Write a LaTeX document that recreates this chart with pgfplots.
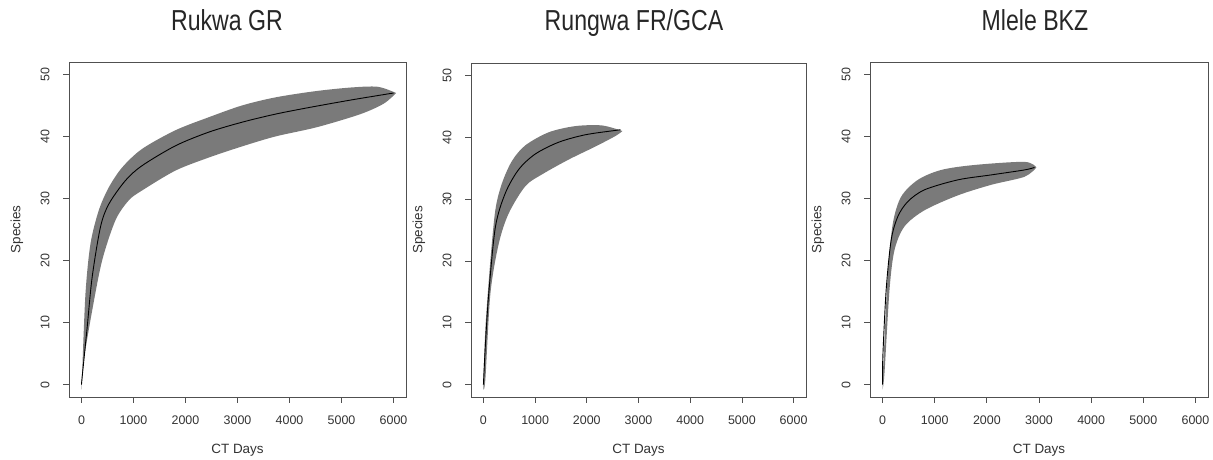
\documentclass[border=0pt]{standalone}
\usepackage{fontspec}
\setmainfont{Liberation Sans}
\usepackage{pgfplots}
\pgfplotsset{compat=1.18}
\usepgfplotslibrary{fillbetween}

\definecolor{bandgray}{RGB}{122,122,122}
\definecolor{axgray}{RGB}{80,80,80}

\pgfplotsset{
  rplot/.style={
    scale only axis,
    xmin=-240, xmax=6240,
    ymin=-2, ymax=52,
    xtick={0,1000,...,6000},
    ytick={0,10,...,50},
    scaled ticks=false,
    /pgf/number format/1000 sep={},
    /pgf/number format/assume math mode=true,
    tick align=outside,
    xtick pos=bottom, ytick pos=left,
    major tick length=6bp,
    axis line style={axgray, line width=0.8pt},
    tick style={axgray, line width=0.8pt},
    ticklabel style={font=\fontsize{12.5}{13}\selectfont, text=black!80},
    xticklabel style={anchor=north, yshift=-9bp},
    yticklabel style={rotate=90, anchor=south, yshift=10bp},
    xlabel={CT Days}, ylabel={Species},
    every axis x label/.style={at={(axis description cs:0.5,0)}, anchor=center,
      yshift=-53bp, font=\fontsize{13.5}{14}\selectfont, text=black!80},
    every axis y label/.style={at={(axis description cs:0,0.5)}, anchor=center,
      rotate=90, yshift=52bp, font=\fontsize{13.5}{14}\selectfont, text=black!80},
  },
  rband/.style={fill=bandgray, draw=none},
  rmean/.style={black, line width=0.9pt, smooth, no markers},
  redge/.style={draw=none, smooth, no markers},
}

\newcommand{\ttl}[1]{{\addfontfeature{FakeStretch=0.8}\fontsize{29}{30}\selectfont #1}}

\begin{document}
\begin{tikzpicture}

% Rukwa GR
\begin{axis}[rplot, at={(69bp,61bp)}, anchor=south west, width=337bp, height=335bp]
  \addplot[redge, name path=up1] coordinates {
    (0,0.5) (13,2) (77,14.7) (173,22.7) (333,28.1) (526,31.8) (782,35) (1167,38)
    (1808,41) (2449,43.1) (3090,45) (3731,46.3) (4500,47.3) (5200,47.9) (5700,48) (6050,47)};
  \addplot[redge, name path=lo1] coordinates {
    (0,-0.8) (45,3.9) (205,11.9) (397,20) (654,26.5) (910,29.7) (1167,31.3) (1808,34.5)
    (2449,36.6) (3090,38.4) (3731,40) (4532,41.5) (5365,43.6) (5814,45.3) (6050,47)};
  \addplot[rband] fill between[of=up1 and lo1];
  \addplot[rmean] coordinates {
    (0,0) (13,1.2) (109,9.2) (205,17.3) (365,25.4) (526,29.1) (846,32.9) (1167,35.3)
    (1808,38.5) (2449,40.7) (3090,42.3) (3731,43.6) (4400,44.7) (5200,45.9) (6000,47)};
\end{axis}

% Rungwa FR/GCA
\begin{axis}[rplot, at={(471bp,61bp)}, anchor=south west, width=335bp, height=334bp]
  \addplot[redge, name path=up2] coordinates {
    (0,0.5) (39,9.2) (135,20.1) (232,28.3) (361,32.6) (555,36.2) (813,38.7) (1264,40.8)
    (1781,41.8) (2297,41.9) (2690,41)};
  \addplot[redge, name path=lo2] coordinates {
    (0,-0.8) (39,1) (135,14.7) (297,22.8) (490,27.7) (813,32.1) (1136,34.0) (1652,36.4)
    (2168,38.5) (2555,40.2) (2690,41)};
  \addplot[rband] fill between[of=up2 and lo2];
  \addplot[rmean] coordinates {
    (0,0) (39,6.5) (103,14.7) (232,25.5) (426,31) (684,34.8) (1006,37.3) (1458,39.2)
    (1974,40.4) (2555,41.1) (2652,41.2)};
\end{axis}

% Mlele BKZ
\begin{axis}[rplot, at={(870bp,61bp)}, anchor=south west, width=338bp, height=335bp]
  \addplot[redge, name path=up3] coordinates {
    (0,0.5) (38,7.2) (102,18) (198,26) (358,30.3) (677,33.0) (1125,34.6) (1763,35.4)
    (2722,35.9) (2950,35)};
  \addplot[redge, name path=lo3] coordinates {
    (0,-0.8) (38,1.9) (134,15.3) (230,21.7) (422,25.5) (805,28.1) (1444,30.5) (2083,32.2)
    (2722,33.5) (2950,35)};
  \addplot[rband] fill between[of=up3 and lo3];
  \addplot[rmean] coordinates {
    (0,0) (6,4.5) (70,15.3) (166,23.3) (294,27.1) (485,29.5) (805,31.4) (1444,33)
    (2083,33.8) (2722,34.6) (2914,35)};
\end{axis}

\node[text=black!85, anchor=base] at (227bp,427bp) {\ttl{Rukwa GR}};
\node[text=black!85, anchor=base] at (634bp,427bp) {\ttl{Rungwa FR/GCA}};
\node[text=black!85, anchor=base] at (1035bp,427bp) {\ttl{Mlele BKZ}};
\path (0,0) (1213bp,458bp);
\end{tikzpicture}
\end{document}
